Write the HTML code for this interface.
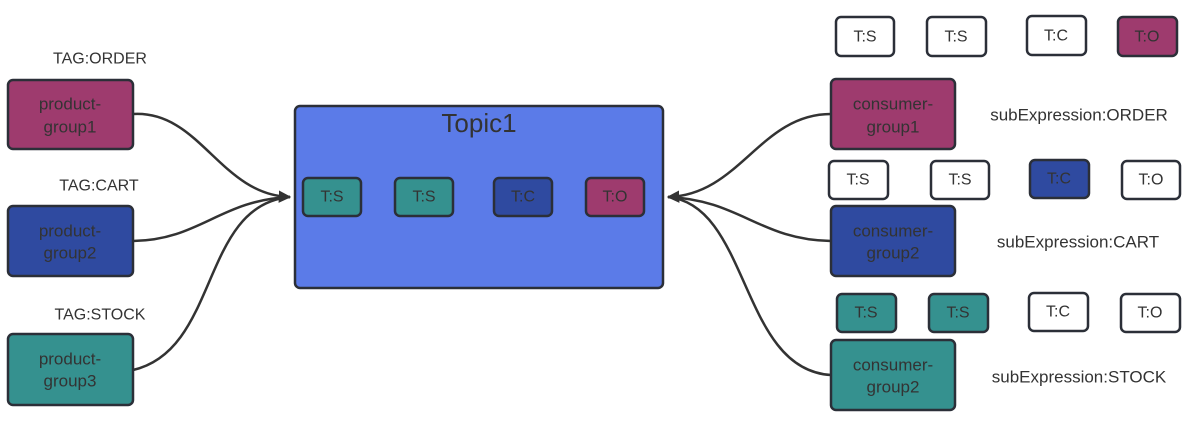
<!DOCTYPE html>
<html><head><meta charset="utf-8"><style>
html,body{margin:0;padding:0;background:#fff;}
svg{display:block;font-family:"Liberation Sans","Noto Sans CJK SC",sans-serif;}
text{fill:#333;text-anchor:middle;dominant-baseline:central;}
</style></head><body>
<svg width="1190" height="440" viewBox="0 0 1190 440">
<defs><marker id="ah" viewBox="0 0 10 10" refX="9" refY="5" markerWidth="5" markerHeight="5" orient="auto" markerUnits="strokeWidth"><path d="M0,0 L10,5 L0,10 z" fill="#333"/></marker></defs>
<g stroke="#333" stroke-width="2.5" fill="none">
<path d="M133,114 C200,110 220,195 290,197" marker-end="url(#ah)"/>
<path d="M133,241 C200,240 220,200 290,197"/>
<path d="M133,370 C220,350 200,205 290,197"/>
<path d="M831,114 C760,114 740,195 668,197" marker-end="url(#ah)"/>
<path d="M831,241 C760,240 740,200 668,197"/>
<path d="M831,375 C740,370 750,205 668,197"/>
</g>
<g stroke="#2b2f38" stroke-width="2.5">
<rect x="8" y="80" width="125" height="69" rx="5" fill="#9e3b6e"/>
<rect x="8" y="206" width="125" height="70" rx="5" fill="#2f4aa0"/>
<rect x="8" y="334" width="125" height="71" rx="5" fill="#35918f"/>
<rect x="295" y="106" width="368" height="182" rx="5" fill="#5b7be8"/>
<rect x="303" y="178" width="58" height="38" rx="5" fill="#35918f"/>
<rect x="395" y="178" width="58" height="38" rx="5" fill="#35918f"/>
<rect x="494" y="178" width="58" height="38" rx="5" fill="#2f4aa0"/>
<rect x="586" y="178" width="58" height="38" rx="5" fill="#9e3b6e"/>
<rect x="831" y="79" width="124" height="70" rx="5" fill="#9e3b6e"/>
<rect x="831" y="206" width="124" height="70" rx="5" fill="#2f4aa0"/>
<rect x="831" y="340" width="124" height="70" rx="5" fill="#35918f"/>
<rect x="836" y="17" width="58" height="39" rx="5" fill="#fff"/>
<rect x="927" y="17" width="59" height="39" rx="5" fill="#fff"/>
<rect x="1027" y="16" width="59" height="39" rx="5" fill="#fff"/>
<rect x="1118" y="17" width="59" height="39" rx="5" fill="#9e3b6e"/>
<rect x="829" y="161" width="59" height="38" rx="5" fill="#fff"/>
<rect x="931" y="161" width="58" height="38" rx="5" fill="#fff"/>
<rect x="1030" y="160" width="59" height="38" rx="5" fill="#2f4aa0"/>
<rect x="1122" y="161" width="58" height="38" rx="5" fill="#fff"/>
<rect x="837" y="294" width="59" height="38" rx="5" fill="#35918f"/>
<rect x="929" y="294" width="59" height="38" rx="5" fill="#35918f"/>
<rect x="1029" y="293" width="59" height="38" rx="5" fill="#fff"/>
<rect x="1121" y="294" width="59" height="38" rx="5" fill="#fff"/>
</g>
<g font-size="16">
<text x="100" y="59">TAG:ORDER</text>
<text x="99" y="186">TAG:CART</text>
<text x="100" y="315">TAG:STOCK</text>
<g font-size="17">
<text x="70" y="104">product-</text><text x="70" y="127">group1</text>
<text x="70" y="231">product-</text><text x="70" y="253">group2</text>
<text x="70" y="359">product-</text><text x="70" y="381">group3</text>
<text x="893" y="104">consumer-</text><text x="893" y="127">group1</text>
<text x="893" y="231">consumer-</text><text x="893" y="253">group2</text>
<text x="893" y="365">consumer-</text><text x="893" y="387">group2</text>
<text x="1079" y="115">subExpression:ORDER</text>
<text x="1078" y="242">subExpression:CART</text>
<text x="1079" y="377">subExpression:STOCK</text>
</g>
<text x="332" y="197">T:S</text><text x="424" y="197">T:S</text><text x="523" y="197">T:C</text><text x="615" y="197">T:O</text>
<text x="865" y="37">T:S</text><text x="956" y="37">T:S</text><text x="1056" y="36">T:C</text><text x="1147" y="37">T:O</text>
<text x="858" y="180">T:S</text><text x="960" y="180">T:S</text><text x="1059" y="179">T:C</text><text x="1151" y="180">T:O</text>
<text x="866" y="313">T:S</text><text x="958" y="313">T:S</text><text x="1058" y="312">T:C</text><text x="1150" y="313">T:O</text>
</g>
<text x="479" y="123" font-size="26">Topic1</text>
</svg>
</body></html>
